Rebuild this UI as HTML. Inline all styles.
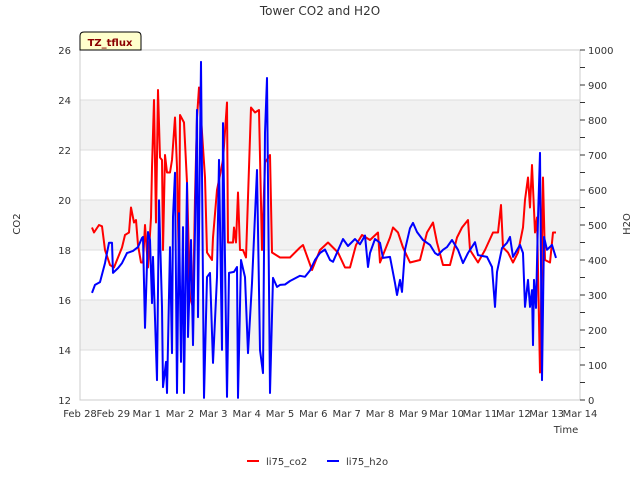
<!DOCTYPE html>
<html><head><meta charset="utf-8"><style>
body{margin:0;background:#fff}
svg{display:block;font-family:"DejaVu Sans","Liberation Sans",sans-serif}
</style></head><body>
<svg id="chart" width="640" height="480" viewBox="0 0 640 480" xmlns="http://www.w3.org/2000/svg">
<text x="320" y="15" text-anchor="middle" font-size="12" fill="#333">Tower CO2 and H2O</text>
<g id="bands"></g>
<g id="grid"></g>
<rect x="80" y="50" width="500" height="350" fill="none" stroke="#ccc" stroke-width="1"/>
<g id="series"></g>
<g id="axes" font-size="10" fill="#333"></g>
<g>
<path d="M80,50 L80,36 Q80,32 84,32 L137,32 Q141,32 141,36 L141,50 Z" fill="#ffffcc" stroke="#000" stroke-width="1"/>
<text x="110" y="46" text-anchor="middle" font-size="10" font-weight="bold" fill="#8b0000">TZ_tflux</text>
</g>
<text x="20" y="224" font-size="10" fill="#333" text-anchor="middle" transform="rotate(-90 20 224)">CO2</text>
<text x="630" y="224" font-size="10" fill="#333" text-anchor="middle" transform="rotate(-90 630 224)">H2O</text>
<text x="566" y="433" font-size="10" fill="#333" text-anchor="middle">Time</text>
<g font-size="10" fill="#333">
<g><line x1="247" y1="461" x2="259" y2="461" stroke="#f00" stroke-width="2"/><text x="266" y="465">li75_co2</text></g>
<g><line x1="327" y1="461" x2="339" y2="461" stroke="#00f" stroke-width="2"/><text x="346" y="465">li75_h2o</text></g>
</g>
</svg>
<script>
const xTickLabels=["Feb 28","Feb 29","Mar 1","Mar 2","Mar 3","Mar 4","Mar 5","Mar 6","Mar 7","Mar 8","Mar 9","Mar 10","Mar 11","Mar 12","Mar 13","Mar 14"];
const leftTicks=[12,14,16,18,20,22,24,26];
const rightTicks=[0,100,200,300,400,500,600,700,800,900,1000];
const co2Days=[.36,.42,.57,.66,.75,.9,1.02,1.14,1.26,1.35,1.47,1.53,1.62,1.68,1.74,1.83,1.89,1.95,2.04,2.13,2.16,2.22,2.28,2.34,2.4,2.46,2.49,2.55,2.61,2.7,2.76,2.85,2.91,2.97,3.0,3.12,3.21,3.3,3.39,3.45,3.51,3.57,3.75,3.81,3.96,3.99,4.11,4.29,4.41,4.44,4.59,4.62,4.68,4.74,4.8,4.89,4.98,5.13,5.25,5.37,5.46,5.55,5.7,5.76,6.0,6.3,6.6,6.69,6.96,7.2,7.44,7.74,7.95,8.1,8.28,8.46,8.7,8.94,9.0,9.3,9.39,9.54,9.69,9.9,10.2,10.41,10.59,10.71,10.89,11.1,11.31,11.46,11.64,11.7,11.94,12.15,12.39,12.54,12.63,12.69,12.84,12.99,13.14,13.29,13.35,13.44,13.5,13.56,13.65,13.71,13.8,13.89,13.95,14.1,14.19,14.28];
const co2Values=[18.9,18.7,19.0,18.95,18.0,17.4,17.3,17.7,18.1,18.6,18.7,19.7,19.1,19.2,18.2,17.5,17.5,19.0,17.3,19.3,21.3,24.0,19.1,24.4,21.7,21.6,18.0,21.8,21.1,21.1,21.6,23.3,21.3,17.2,23.4,23.1,20.7,16.1,15.7,20.1,23.3,24.5,20.9,17.9,17.6,18.5,20.4,21.6,23.9,18.3,18.3,18.9,18.3,20.3,18.0,18.0,17.7,23.7,23.5,23.6,18.0,21.5,21.8,17.9,17.7,17.7,18.1,18.2,17.2,18.0,18.3,17.9,17.3,17.3,18.2,18.6,18.4,18.7,17.5,18.5,18.9,18.7,18.1,17.5,17.6,18.7,19.1,18.3,17.4,17.4,18.5,18.9,19.2,18.0,17.5,18.0,18.7,18.7,19.8,18.1,17.9,17.5,17.9,18.9,20.0,20.9,19.7,21.4,18.7,19.3,13.1,20.9,17.6,17.5,18.7,18.7];
const h2oDays=[.36,.45,.6,.75,.87,.96,.99,1.14,1.26,1.41,1.59,1.74,1.86,1.89,1.95,2.04,2.1,2.16,2.19,2.31,2.37,2.46,2.49,2.58,2.61,2.7,2.76,2.79,2.85,2.91,2.97,3.03,3.09,3.12,3.21,3.24,3.33,3.39,3.45,3.51,3.54,3.63,3.72,3.81,3.9,3.99,4.11,4.17,4.26,4.29,4.41,4.47,4.62,4.71,4.74,4.83,4.95,5.04,5.16,5.31,5.4,5.49,5.55,5.61,5.7,5.79,5.91,6.0,6.15,6.3,6.6,6.75,6.9,7.05,7.2,7.35,7.5,7.59,7.89,8.04,8.25,8.4,8.55,8.64,8.7,8.85,9.0,9.09,9.3,9.45,9.51,9.6,9.66,9.75,9.9,9.99,10.11,10.29,10.5,10.65,10.74,10.89,11.01,11.16,11.34,11.49,11.64,11.85,11.94,12.21,12.36,12.45,12.51,12.66,12.81,12.9,12.99,13.2,13.29,13.35,13.44,13.5,13.56,13.59,13.62,13.68,13.74,13.8,13.86,13.92,14.01,14.16,14.28];
const h2oValues=[306,329,337,391,449,449,363,377,391,420,426,437,463,466,206,480,457,277,409,57,571,266,37,109,20,437,134,523,649,20,534,109,494,20,620,180,457,157,486,829,237,966,6,351,363,106,351,686,143,791,9,363,366,380,6,400,351,134,334,657,143,77,763,920,20,349,323,329,330,340,355,352,370,400,420,430,400,395,460,440,460,445,470,380,420,460,449,406,409,334,300,343,309,429,491,506,480,457,443,420,414,429,437,457,429,391,420,451,414,409,380,266,366,434,449,466,409,443,420,266,343,266,314,157,343,263,520,706,57,466,429,443,406];

const NS="http://www.w3.org/2000/svg";
const X0=80,X1=580,Y0=400,Y1=50;
const xScale=d=>X0+(d/15)*(X1-X0);
const yLeft=v=>Y0-(v-12)/14*(Y0-Y1);
const yRight=v=>Y0-v/1000*(Y0-Y1);
function mk(tag,attrs,parent){const e=document.createElementNS(NS,tag);for(const k in attrs)e.setAttribute(k,attrs[k]);parent.appendChild(e);return e;}
const bands=document.getElementById('bands'),grid=document.getElementById('grid'),axes=document.getElementById('axes'),series=document.getElementById('series');
[[14,16],[18,20],[22,24]].forEach(b=>{
  const r=mk('rect',{x:X0,y:yLeft(b[1]),width:X1-X0,height:yLeft(b[0])-yLeft(b[1]),fill:'#f2f2f2'},bands);
  
  
});
leftTicks.forEach(v=>{
  const l=mk('line',{x1:X0,x2:X1,y1:yLeft(v),y2:yLeft(v),stroke:'#ddd','stroke-width':1},grid);
  
  
  const t=mk('text',{x:71,y:yLeft(v)+4,'text-anchor':'end'},axes);
  
  
  t.textContent=v;
});
for(let v=0;v<=1000;v+=50){
  const l=mk('line',{x1:X1,x2:X1+5,y1:yRight(v),y2:yRight(v),stroke:'#333','stroke-width':1},axes);
  
  
}
rightTicks.forEach(v=>{
  const t=mk('text',{x:588,y:yRight(v)+4,'text-anchor':'start'},axes);
  
  
  t.textContent=v;
});
xTickLabels.forEach((s,i)=>{
  const t=mk('text',{x:xScale(i),y:417,'text-anchor':'middle'},axes);
  
  
  t.textContent=s;
});
function line(days,vals,ys,color,name){
  const d=days.map((x,i)=>(i?'L':'M')+xScale(x).toFixed(1)+','+ys(vals[i]).toFixed(1)).join(' ');
  const p=mk('path',{d:d,fill:'none',stroke:color,'stroke-width':2,'stroke-linejoin':'round'},series);
  
  
}
line(co2Days,co2Values,yLeft,'#f00','li75-co2-line');
line(h2oDays,h2oValues,yRight,'#00f','li75-h2o-line');
</script>
</body></html>
